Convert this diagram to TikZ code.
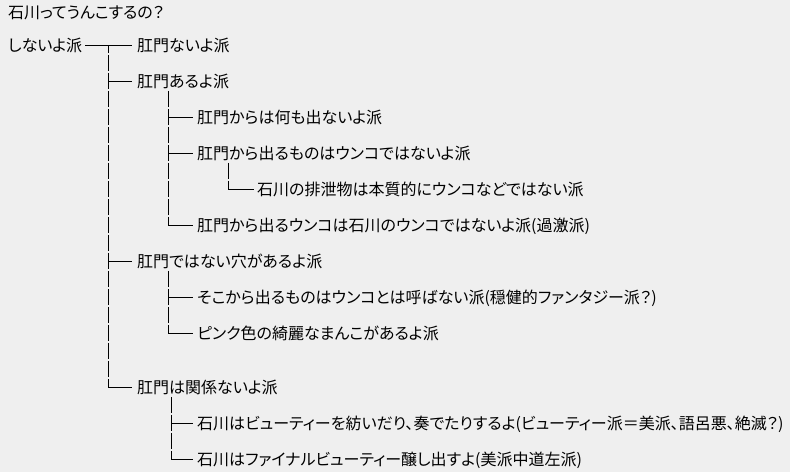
\documentclass[tikz,border=0pt]{standalone}
\usepackage{fontspec}
\newfontfamily\jpfont[RawFeature=+palt]{Noto Sans CJK JP}
\definecolor{bgcol}{RGB}{239,239,239}
\tikzset{
  txt/.style={anchor=west, inner sep=0pt, text height=14pt, text depth=2pt,
              font=\jpfont\fontsize{16}{18}\selectfont},
  hl/.style={draw=black, line width=1pt, line cap=rect},
  vl/.style={draw=black, line width=1pt, dash pattern=on 16.5pt off 1.5pt},
}
\begin{document}
\begin{tikzpicture}[x=1pt,y=-1pt]
\fill[bgcol] (0,0) rectangle (790,472);
\useasboundingbox (0,0) rectangle (790,472);

\node[txt] (title) at (8,12) {石川ってうんこするの？};
\node[txt] (n0) at (8,45) {しないよ派};
\node[txt] (n1) at (137,45) {肛門ないよ派};
\node[txt] (n2) at (137,81) {肛門あるよ派};
\node[txt] (n3) at (197,117) {肛門からは何も出ないよ派};
\node[txt] (n4) at (197,153) {肛門から出るものはウンコではないよ派};
\node[txt] (n5) at (257,189) {石川の排泄物は本質的にウンコなどではない派};
\node[txt] (n6) at (197,225) {肛門から出るウンコは石川のウンコではないよ派(過激派)};
\node[txt] (n7) at (137,261) {肛門ではない穴があるよ派};
\node[txt] (n8) at (197,297) {そこから出るものはウンコとは呼ばない派(穏健的ファンタジー派？)};
\node[txt] (n9) at (197,333) {ピンク色の綺麗なまんこがあるよ派};
\node[txt] (n10) at (137,387) {肛門は関係ないよ派};
\node[txt] (n11) at (197,423) {石川はビューティーを紡いだり、奏でたりするよ(ビューティー派＝美派、語呂悪、絶滅？)};
\node[txt] (n12) at (197,459) {石川はファイナルビューティー醸し出すよ(美派中道左派)};

\coordinate (s0) at (85,45);
\coordinate (k0) at (108,45);
\coordinate (k1) at (168,90.75);
\coordinate (k2) at (228,162.75);
\coordinate (k3) at (168,270.75);
\coordinate (k4) at (171,396.75);

% root
\draw[hl] (s0) -- ([xshift=-6pt]n1.west);
\draw[vl, dash phase=8.25pt] (k0) -- (k0 |- n10.west);
\draw[hl] (k0 |- n2.west) -- ([xshift=-6pt]n2.west);
\draw[hl] (k0 |- n7.west) -- ([xshift=-6pt]n7.west);
\draw[hl] (k0 |- n10.west) -- ([xshift=-6pt]n10.west);
% under n2
\draw[vl] (k1) -- (k1 |- n6.west);
\draw[hl] (k1 |- n3.west) -- ([xshift=-5pt]n3.west);
\draw[hl] (k1 |- n4.west) -- ([xshift=-5pt]n4.west);
\draw[hl] (k1 |- n6.west) -- ([xshift=-5pt]n6.west);
% under n4
\draw[vl] (k2) -- (k2 |- n5.west);
\draw[hl] (k2 |- n5.west) -- ([xshift=-4pt]n5.west);
% under n7
\draw[vl] (k3) -- (k3 |- n9.west);
\draw[hl] (k3 |- n8.west) -- ([xshift=-5pt]n8.west);
\draw[hl] (k3 |- n9.west) -- ([xshift=-5pt]n9.west);
% under n10
\draw[vl] (k4) -- (k4 |- n12.west);
\draw[hl] (k4 |- n11.west) -- ([xshift=-5pt]n11.west);
\draw[hl] (k4 |- n12.west) -- ([xshift=-5pt]n12.west);
\end{tikzpicture}
\end{document}
